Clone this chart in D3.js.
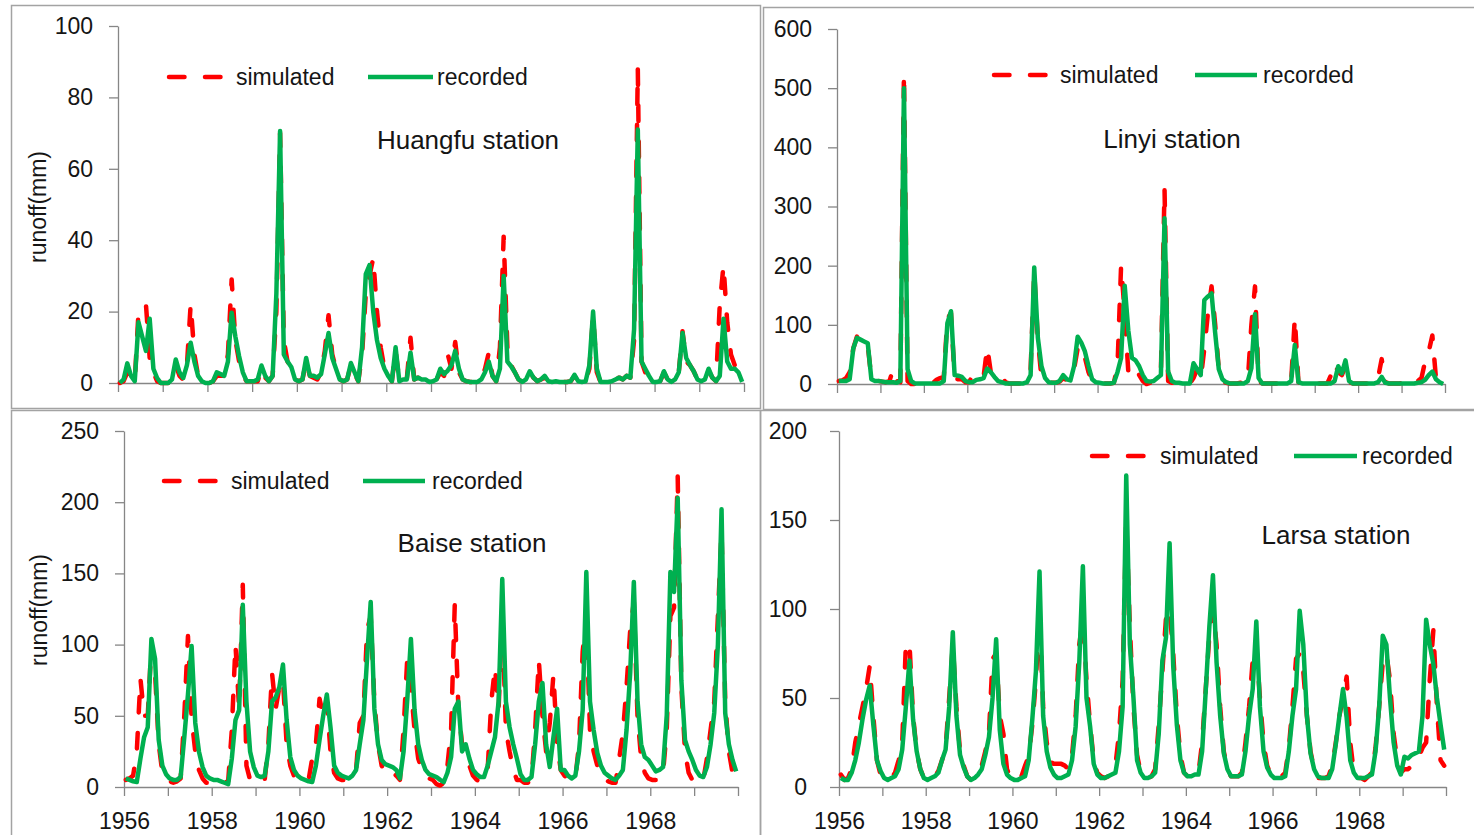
<!DOCTYPE html>
<html>
<head>
<meta charset="utf-8">
<script src="https://cdn.jsdelivr.net/npm/d3@7"></script>
<style>
body { margin: 0; background: #fff; }
svg { display: block; font-family: Arial, "Liberation Sans", sans-serif; }
</style>
</head>
<body>
<svg id="chart" width="1474" height="835"></svg>
<script>
// years on the x axis (monthly values, 1956-1969)
const years = d3.range(1956, 1971);
const seriesNames = ["simulated", "recorded"];

// ---- Huangfu ----
const huangfuRecorded = [
  0, 1, 5.5, 2, 0.5, 17, 13, 9, 18, 4, 1.4, 0,
  0, 0, 1, 6.6, 3, 1.4, 5, 11.3, 6, 2, 0.5, 0,
  0, 0.5, 3, 2.5, 2, 6, 19.7, 13, 7.5, 3, 0.5, 0.5,
  0.5, 1, 4.9, 2, 0.5, 2, 25, 70.6, 8, 6, 4.5, 1,
  0.5, 1, 7, 2, 2, 1.5, 2.5, 8, 14, 7, 4, 1,
  0.5, 1, 5.6, 3, 0.5, 10, 30.5, 33, 20, 12, 7, 4,
  2, 0.5, 10, 0.5, 1, 1, 8.5, 1, 1.5, 1, 1, 0.3,
  0.5, 1, 4, 2.5, 3.5, 5, 9, 4, 1, 0.5, 0.3, 0.3,
  0.3, 1, 3, 6, 2, 0.5, 4, 30, 6, 4.7, 3, 1,
  0.3, 1, 3.3, 1.5, 0.5, 1, 2, 0.5, 0.3, 0.5, 0.3, 0.3,
  0.3, 0.5, 2.3, 0.5, 0.3, 0.5, 5, 20, 4, 0.3, 0.3, 0.3,
  0.5, 1, 1.5, 1, 2, 1.5, 15, 71, 6, 4, 2, 0.3,
  0.3, 0.5, 3.3, 1, 0.3, 1, 3, 14, 7, 5, 3.3, 1,
  0.5, 1, 4, 1.5, 0.5, 2, 18, 6, 4, 4, 3, 0.3
];
const huangfuSimulated = [
  0, 0.5, 3, 1, 0.5, 20, 21, 22, 7, 3, 0.5, 0,
  0, 0, 0.5, 5, 2, 1, 5, 22, 8, 2, 0.5, 0,
  0, 0.5, 2, 2, 2, 8, 29, 12, 6, 2, 0.5, 0.5,
  0.5, 0.5, 4, 1.5, 0.5, 2, 20, 70, 12, 6, 4, 1,
  0.5, 1, 6, 2, 1.5, 1, 3, 9, 19, 8, 4, 1,
  0.5, 1, 5, 2.5, 0.5, 8, 25, 30, 35, 20, 10, 4,
  2, 0.5, 9, 0.5, 1, 1, 12.7, 1, 1.5, 1, 0.5, 0.3,
  0.5, 1, 3, 2, 8, 4, 11.5, 3, 1, 0.5, 0.3, 0.3,
  0.3, 1, 4, 8.5, 2, 0.5, 10, 41, 10, 5, 3, 1,
  0.3, 1, 3, 1.5, 0.5, 1, 1.5, 0.5, 0.3, 0.5, 0.3, 0.3,
  0.3, 0.5, 2, 0.5, 0.3, 0.5, 4, 19, 3, 0.3, 0.3, 0.3,
  0.5, 1, 1.5, 1, 2, 1.5, 12, 88, 6, 3, 2, 0.3,
  0.3, 0.5, 3, 1, 0.3, 1, 3, 14.5, 6, 5, 3.3, 1,
  0.5, 1, 3.5, 1.5, 0.5, 22, 33, 17, 8, 5, 2, 0.3
];

// ---- Linyi ----
const linyiRecorded = [
  5, 5, 5, 8, 60, 78, 75, 72, 69, 8, 5, 5,
  4, 3, 3, 3, 2, 5, 500, 25, 5, 1, 1, 1,
  1, 1, 1, 1, 1, 5, 103, 123, 15, 14, 12, 5,
  3, 3, 7, 8, 10, 26, 20, 12, 5, 3, 1, 1,
  1, 1, 1, 1, 3, 15, 197, 78, 30, 10, 3, 2,
  2, 5, 15, 8, 6, 30, 80, 70, 55, 30, 8, 3,
  2, 1, 1, 1, 2, 20, 44, 166, 90, 44, 40, 30,
  15, 5, 4, 5, 10, 15, 280, 21, 5, 2, 2, 1,
  1, 1, 35, 25, 15, 142, 148, 153, 86, 25, 8, 3,
  1, 1, 1, 1, 1, 5, 27, 118, 10, 1, 1, 1,
  1, 1, 1, 1, 1, 5, 66, 3, 1, 1, 1, 1,
  1, 1, 1, 1, 1, 5, 30, 18, 40, 5, 1, 1,
  1, 1, 1, 1, 1, 3, 12, 2, 1, 1, 1, 1,
  1, 1, 1, 1, 2, 3, 7, 15, 21, 8, 3, 0
];
const linyiSimulated = [
  5, 6, 10, 20, 60, 80, 70, 70, 65, 10, 5, 5,
  4, 3, 5, 25, 5, 3, 525, 5, 0, 0, 0, 0,
  0.5, 1, 2, 7, 10, 12, 110, 120, 10, 8, 8, 3,
  3, 15, 15, 10, 12, 62, 20, 12, 15, 15, 3, 1,
  1, 1, 1, 2, 5, 25, 190, 75, 10, 5, 3, 2,
  2, 4, 10, 6, 8, 25, 60, 40, 45, 20, 5, 2,
  2, 1, 1, 1, 2, 30, 200, 120, 20, 25, 30, 15,
  5, 0, 2, 10, 15, 20, 330, 5, 2, 2, 1, 1,
  1, 1, 10, 25, 8, 60, 120, 165, 100, 25, 5, 2,
  1, 1, 1, 2, 1, 5, 100, 165, 5, 1, 1, 1,
  1, 1, 1, 1, 1, 5, 112, 3, 1, 1, 1, 1,
  1, 1, 1, 1, 15, 35, 20, 15, 30, 3, 1, 1,
  1, 1, 1, 1, 1, 10, 42, 3, 1, 1, 1, 1,
  2, 5, 10, 8, 5, 10, 38, 55, 82, 10, 1, 0
];

// ---- Baise ----
const baiseRecorded = [
  6, 5, 4, 3.5, 20, 35, 42, 104, 90, 33, 15, 9,
  6, 5, 5, 7, 35, 65, 99, 45, 25, 14, 8, 6,
  5, 5, 4, 3, 2, 20, 47, 54, 128, 60, 25, 14,
  8, 7, 8, 25, 60, 63, 70, 86, 47, 21, 12, 8,
  6, 5, 4, 3.5, 15, 33, 50, 65, 42, 15, 10, 8,
  7, 6, 8, 12, 30, 47, 90, 130, 55, 30, 19, 16,
  15, 14, 12, 6, 25, 61, 104, 54, 30, 19, 12, 9,
  8, 7, 5, 3.5, 10, 21, 55, 60, 25, 30, 20, 12,
  9, 7, 7, 15, 25, 35, 60, 146, 60, 42, 30, 20,
  9, 5, 5, 7, 30, 60, 73, 30, 14, 35, 55, 12,
  12, 8, 6, 8, 25, 54, 151, 60, 40, 24, 15, 10,
  8, 6, 5, 8, 12, 40, 80, 144, 61, 30, 21, 19,
  15, 11, 12, 14, 50, 151, 137, 203, 75, 33, 25, 19,
  12, 8, 7, 14, 30, 52, 100, 195, 52, 30, 19, 11
];
const baiseSimulated = [
  5, 6, 8, 25, 76, 50, 50, 100, 80, 30, 10, 5,
  4, 3, 4, 6, 50, 106, 48, 25, 12, 6, 3, 3,
  3, 2, 3, 3, 4, 40, 100, 55, 142, 15, 5, 3,
  3, 3, 5, 30, 80, 55, 70, 75, 30, 15, 8, 5,
  5, 4, 5, 20, 30, 62, 50, 60, 25, 10, 6, 5,
  5, 5, 8, 12, 45, 50, 110, 120, 60, 30, 15, 10,
  12, 10, 8, 5, 40, 90, 70, 40, 20, 12, 8, 6,
  5, 2, 1, 3, 15, 40, 128, 55, 30, 25, 15, 8,
  5, 4, 5, 12, 60, 84, 55, 120, 40, 25, 12, 5,
  5, 3, 3, 6, 40, 89, 50, 25, 45, 79, 30, 12,
  8, 6, 5, 6, 30, 95, 120, 40, 25, 15, 8, 5,
  4, 3, 3, 20, 38, 70, 110, 130, 50, 20, 10, 6,
  5, 5, 5, 10, 40, 120, 126, 218, 70, 25, 10, 5,
  5, 3, 5, 20, 40, 60, 120, 180, 60, 25, 10, 4
];

// ---- Larsa ----
const larsaRecorded = [
  5, 4, 4, 8, 15, 25, 38, 49, 57, 35, 15, 9,
  5, 4, 5, 6, 10, 21, 45, 71, 38, 20, 10, 5,
  4, 5, 6, 8, 15, 21, 45, 87, 40, 18, 11, 6,
  4, 5, 7, 10, 18, 28, 50, 83, 32, 13, 7, 5,
  4, 4, 5, 6, 15, 38, 65, 121, 40, 20, 11, 7,
  5, 5, 6, 7, 15, 34, 70, 124, 50, 34, 13, 7,
  5, 5, 6, 7, 8, 20, 45, 175, 80, 50, 15, 8,
  5, 5, 6, 8, 30, 71, 84, 137, 68, 35, 15, 8,
  6, 6, 7, 7, 20, 54, 90, 119, 70, 40, 19, 10,
  6, 6, 6, 7, 20, 40, 55, 93, 45, 20, 11, 7,
  5, 5, 5, 6, 20, 40, 55, 99, 80, 40, 19, 10,
  6, 5, 5, 5, 10, 24, 40, 55, 39, 15, 8, 5,
  5, 5, 6, 7, 20, 45, 85, 80, 50, 25, 12, 7,
  17, 16, 18, 19, 20, 40, 94, 80, 69, 50, 35, 21
];
const larsaSimulated = [
  7, 4, 5, 10, 25, 35, 45, 55, 68, 40, 15, 7,
  5, 4, 5, 8, 15, 25, 80, 81, 40, 20, 10, 5,
  4, 5, 6, 9, 15, 22, 50, 80, 45, 20, 12, 6,
  4, 5, 7, 12, 20, 30, 72, 75, 40, 30, 10, 5,
  4, 4, 6, 12, 17, 35, 60, 100, 45, 25, 14, 13,
  13, 13, 12, 10, 18, 40, 80, 95, 60, 35, 15, 8,
  6, 5, 6, 8, 12, 30, 60, 150, 90, 45, 18, 8,
  6, 5, 6, 10, 35, 65, 95, 100, 75, 40, 18, 8,
  6, 6, 7, 8, 25, 55, 85, 100, 80, 45, 20, 10,
  6, 6, 6, 8, 25, 45, 71, 80, 50, 25, 12, 7,
  5, 5, 6, 8, 22, 45, 72, 75, 65, 40, 20, 10,
  5, 5, 5, 6, 12, 25, 40, 50, 62, 25, 8, 5,
  5, 4, 6, 8, 22, 45, 70, 75, 60, 30, 15, 8,
  10, 10, 12, 15, 17, 22, 25, 60, 88, 45, 15, 12
];

// layout of the four panels (pixel boxes)
const panels = [
  { title: "Huangfu station", rec: huangfuRecorded, sim: huangfuSimulated, yMax: 100, yStep: 20,
    frame: [11, 5, 749, 403], xRange: [118, 744], yRange: [383, 26], labelGap: 16, xLabels: false,
    yTitle: [38, 207], titlePos: [468, 149],
    legend: { y: 77, red: [167, 223], simX: 236, green: [368, 433], recX: 437 } },
  { title: "Linyi station", rec: linyiRecorded, sim: linyiSimulated, yMax: 600, yStep: 100,
    frame: [763, 7, 730, 402], xRange: [837, 1445], yRange: [384, 29], labelGap: 16, xLabels: false,
    yTitle: null, titlePos: [1172, 148],
    legend: { y: 75, red: [992, 1049], simX: 1060, green: [1195, 1257], recX: 1263 } },
  { title: "Baise station", rec: baiseRecorded, sim: baiseSimulated, yMax: 250, yStep: 50,
    frame: [11, 410, 749, 440], xRange: [124, 738], yRange: [787, 431], labelGap: 16, xLabels: true,
    yTitle: [39, 610], titlePos: [472, 552],
    legend: { y: 481, red: [162, 218], simX: 231, green: [363, 425], recX: 432 } },
  { title: "Larsa station", rec: larsaRecorded, sim: larsaSimulated, yMax: 200, yStep: 50,
    frame: [760, 410, 730, 440], xRange: [839, 1446], yRange: [787, 431], labelGap: 23, xLabels: true,
    yTitle: null, titlePos: [1336, 544],
    legend: { y: 456, red: [1090, 1147], simX: 1160, green: [1294, 1357], recX: 1362 } }
];

const RED = "#ff0000", GREEN = "#00b050", AXIS = "#868686", TEXT = "#151515";
const DASH = "15.5,20.5";

const svg = d3.select("#chart");

panels.forEach(p => drawPanel(p));

function drawPanel(p) {
  const g = svg.append("g");

  // frame round each panel
  g.append("rect")
    .attr("x", p.frame[0] + 0.5).attr("y", p.frame[1] + 0.5)
    .attr("width", p.frame[2]).attr("height", p.frame[3])
    .attr("fill", "none").attr("stroke", "#a3a3a3").attr("stroke-width", 1.5);

  const x = d3.scaleLinear().domain([1956, 1970]).range(p.xRange);
  const y = d3.scaleLinear().domain([0, p.yMax]).range(p.yRange);

  // y axis
  const yAxis = d3.axisLeft(y)
    .tickValues(d3.range(0, p.yMax + 1, p.yStep))
    .tickSize(9).tickSizeOuter(0).tickPadding(p.labelGap);
  const ya = g.append("g").attr("transform", `translate(${p.xRange[0]},0)`).call(yAxis);

  // x axis, tick every year, label every second year on the lower row
  const xAxis = d3.axisBottom(x)
    .tickValues(years)
    .tickSize(9).tickSizeOuter(0).tickPadding(17)
    .tickFormat(d => (p.xLabels && d % 2 === 0 && d < 1970) ? d : "");
  const xa = g.append("g").attr("transform", `translate(0,${p.yRange[0]})`).call(xAxis);

  [ya, xa].forEach(a => {
    a.select(".domain").attr("stroke", AXIS).attr("stroke-width", 1.3);
    a.selectAll(".tick line").attr("stroke", AXIS).attr("stroke-width", 1.3);
    a.selectAll("text").attr("fill", TEXT).style("font-size", "23px")
      .style("font-family", "Arial, 'Liberation Sans', sans-serif");
  });

  // monthly lines, point in the middle of each month
  const line = d3.line()
    .x((d, i) => x(1956 + (i + 0.5) / 12))
    .y(d => y(d));

  g.append("path").datum(p.sim)
    .attr("d", line)
    .attr("fill", "none").attr("stroke", RED).attr("stroke-width", 4.5)
    .attr("stroke-dasharray", DASH).attr("stroke-linecap", "round")
    .attr("stroke-linejoin", "round");

  g.append("path").datum(p.rec)
    .attr("d", line)
    .attr("fill", "none").attr("stroke", GREEN).attr("stroke-width", 4.5)
    .attr("stroke-linejoin", "round");

  // legend
  const L = p.legend;
  g.append("line")
    .attr("x1", L.red[0] + 2).attr("x2", L.red[1] - 2).attr("y1", L.y).attr("y2", L.y)
    .attr("stroke", RED).attr("stroke-width", 4.5)
    .attr("stroke-dasharray", DASH).attr("stroke-linecap", "round");
  g.append("text").attr("x", L.simX).attr("y", L.y + 8)
    .attr("fill", TEXT).style("font-size", "23px").text(seriesNames[0]);
  g.append("line")
    .attr("x1", L.green[0]).attr("x2", L.green[1]).attr("y1", L.y).attr("y2", L.y)
    .attr("stroke", GREEN).attr("stroke-width", 4.5);
  g.append("text").attr("x", L.recX).attr("y", L.y + 8)
    .attr("fill", TEXT).style("font-size", "23px").text(seriesNames[1]);

  // station name
  g.append("text")
    .attr("x", p.titlePos[0]).attr("y", p.titlePos[1])
    .attr("text-anchor", "middle")
    .attr("fill", TEXT).style("font-size", "26px").text(p.title);

  if (p.yTitle) {
    g.append("text")
      .attr("transform", `translate(${p.yTitle[0]},${p.yTitle[1]}) rotate(-90)`)
      .attr("text-anchor", "middle").attr("dy", "0.35em")
      .attr("fill", TEXT).style("font-size", "23px").text("runoff(mm)");
  }
}
</script>
</body>
</html>
